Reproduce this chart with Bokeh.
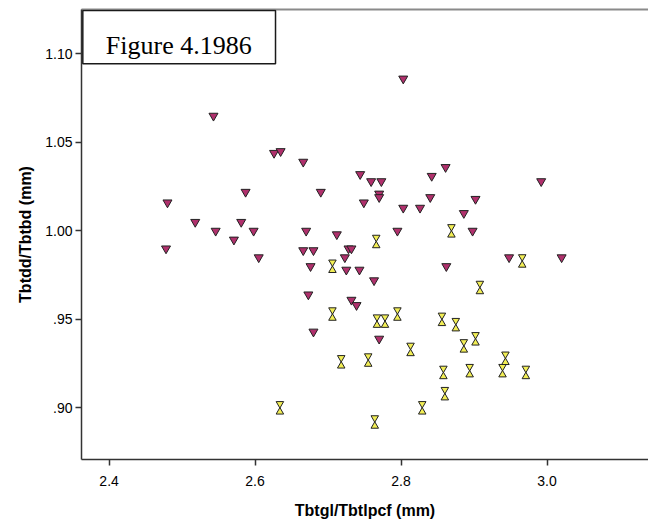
from bokeh.plotting import figure
from bokeh.models import Range1d, FixedTicker, LinearAxis, BoxAnnotation, Label, ColumnDataSource
from bokeh.transform import dodge
from bokeh.embed import file_html
from bokeh.resources import INLINE

# ---- data ----
pink_x = [2.543, 2.626, 2.635, 2.666, 2.587, 2.690, 2.480, 2.518, 2.581, 2.546,
          2.598, 2.670, 2.712, 2.571, 2.478, 2.666, 2.680, 2.728, 2.732, 2.605,
          2.723, 2.676, 2.725, 2.743, 2.763, 2.673, 2.732, 2.739, 2.680, 2.770,
          2.803, 2.744, 2.759, 2.773, 2.842, 2.861, 2.992, 2.770, 2.770, 2.749,
          2.803, 2.826, 2.840, 2.902, 2.886, 2.795, 2.898, 2.948, 3.020, 2.862]
pink_y = [1.065, 1.044, 1.045, 1.039, 1.022, 1.022, 1.016, 1.005, 1.005, 1.000,
          1.000, 1.000, 0.998, 0.995, 0.990, 0.989, 0.989, 0.990, 0.990, 0.985,
          0.985, 0.980, 0.978, 0.978, 0.972, 0.964, 0.961, 0.958, 0.943, 0.939,
          1.086, 1.032, 1.028, 1.028, 1.031, 1.036, 1.028, 1.021, 1.019, 1.016,
          1.013, 1.013, 1.019, 1.018, 1.010, 1.000, 1.000, 0.985, 0.985, 0.980]
yellow_x = [2.869, 2.766, 2.966, 2.706, 2.908, 2.706, 2.767, 2.778, 2.795, 2.856,
            2.875, 2.886, 2.902, 2.813, 2.943, 2.718, 2.755, 2.858, 2.894, 2.939,
            2.971, 2.860, 2.829, 2.764, 2.634]
yellow_y = [1.000, 0.994, 0.983, 0.980, 0.968, 0.953, 0.949, 0.949, 0.953, 0.950,
            0.947, 0.935, 0.939, 0.933, 0.928, 0.926, 0.927, 0.920, 0.921, 0.921,
            0.920, 0.908, 0.900, 0.892, 0.900]
x_ticks = [2.4, 2.6, 2.8, 3.0]
x_tick_labels = ["2.4", "2.6", "2.8", "3.0"]
y_ticks = [0.90, 0.95, 1.00, 1.05, 1.10]
y_tick_labels = [".90", ".95", "1.00", "1.05", "1.10"]
x_title = "Tbtgl/Tbtlpcf (mm)"
y_title = "Tbtdd/Tbtbd (mm)"
caption = "Figure 4.1986"

p = figure(width=648, height=525, output_backend="svg", toolbar_location=None,
           x_range=Range1d(2.3622, 3.139), y_range=Range1d(0.8708, 1.1251),
           min_border_left=81, min_border_right=0, min_border_top=9, min_border_bottom=66,
           background_fill_color="white", border_fill_color="white")
p.outline_line_color = None
p.xgrid.visible = False
p.ygrid.visible = False

for ax, ticks, labels, title in ((p.xaxis[0], x_ticks, x_tick_labels, x_title),
                                 (p.yaxis[0], y_ticks, y_tick_labels, y_title)):
    ax.ticker = FixedTicker(ticks=ticks)
    ax.major_label_overrides = dict(zip(ticks, labels))
    ax.axis_label = title
    ax.axis_label_text_font = "Liberation Sans"
    ax.axis_label_text_font_style = "bold"
    ax.axis_label_text_font_size = "16px"
    ax.axis_label_text_color = "black"
    ax.major_label_text_font = "Liberation Sans"
    ax.major_label_text_font_size = "14px"
    ax.major_label_text_color = "black"
    ax.axis_line_color = "#333333"
    ax.axis_line_width = 1.5
    ax.major_tick_line_color = "#333333"
    ax.major_tick_line_width = 1.5
    ax.major_tick_out = 6
    ax.major_tick_in = 0
    ax.minor_tick_out = 0
    ax.minor_tick_in = 0

p.xaxis.major_label_standoff = 10
p.xaxis.axis_label_standoff = 13
p.yaxis.major_label_standoff = 3
p.yaxis.axis_label_standoff = 8

top = LinearAxis(ticker=FixedTicker(ticks=[]), major_label_text_font_size="0px",
                 major_tick_out=0, major_tick_in=0, minor_tick_out=0, minor_tick_in=0,
                 major_label_standoff=0, axis_line_color="#8a8a8a", axis_line_width=2)
p.add_layout(top, "above")

src_p = ColumnDataSource(dict(x=pink_x, y=pink_y))
src_y = ColumnDataSource(dict(x=yellow_x, y=yellow_y))

p.scatter("x", "y", source=src_p, marker="inverted_triangle", size=9,
          fill_color="#B0306C", line_color="#222222", line_width=1)
p.scatter("x", dodge("y", 0.0023), source=src_y, marker="inverted_triangle", size=7.5,
          fill_color="#F2EE55", line_color="#222222", line_width=1)
p.scatter("x", dodge("y", -0.0023), source=src_y, marker="triangle", size=7.5,
          fill_color="#F2EE55", line_color="#222222", line_width=1)

box = BoxAnnotation(left=2.364, right=2.628, top=1.1246, bottom=1.0944,
                    fill_color="white", fill_alpha=1.0, line_color="#1a1a1a",
                    line_alpha=1.0, line_width=1.5)
p.add_layout(box)
p.add_layout(Label(x=2.4955, y=1.1048, text=caption, text_align="center",
                   text_baseline="alphabetic", text_font="Liberation Serif",
                   text_font_size="26px", text_color="black"))

open("out.html", "w").write(file_html(p, INLINE))
